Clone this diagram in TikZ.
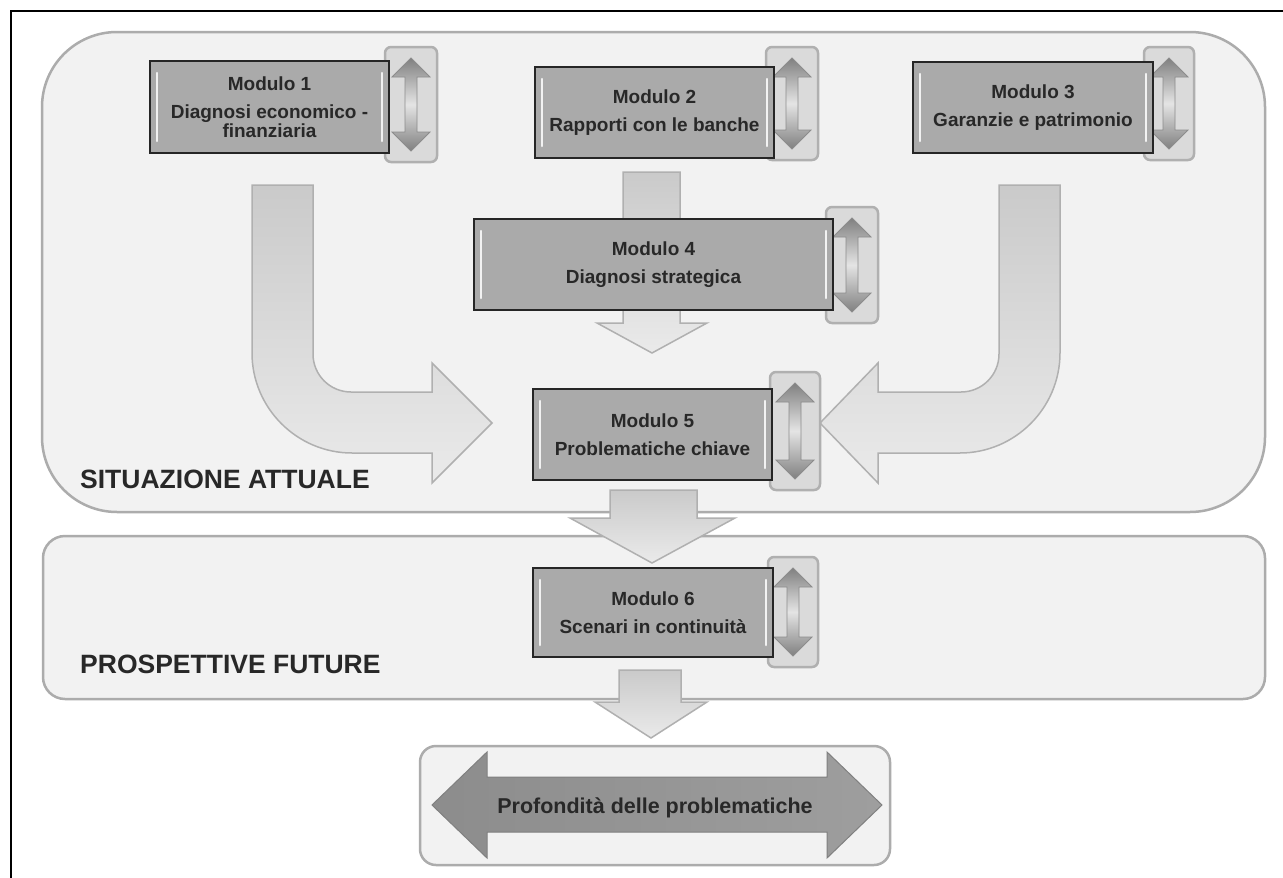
\documentclass[tikz,border=0pt]{standalone}
\usepackage{fontspec}
\setmainfont{Liberation Sans}
\usetikzlibrary{calc}
\definecolor{panelfill}{RGB}{242,242,242}
\definecolor{panelline}{RGB}{172,172,172}
\definecolor{bigtop}{RGB}{202,202,202}
\definecolor{bigbot}{RGB}{234,234,234}
\definecolor{bigline}{RGB}{176,176,176}
\definecolor{modfill}{RGB}{170,170,170}
\definecolor{sidefill}{RGB}{218,218,218}
\definecolor{sideline}{RGB}{176,176,176}
\definecolor{sadark}{RGB}{128,128,128}
\definecolor{salight}{RGB}{228,228,228}
\definecolor{txt}{RGB}{40,40,40}
\newcommand\bevel[1]{%
  \draw[white, line width=2.5, line cap=round, opacity=0.85] ($(#1.north west)+(7,12)$) -- ($(#1.south west)+(7,-12)$);
  \draw[white, line width=2.5, line cap=round, opacity=0.85] ($(#1.north east)+(-7,12)$) -- ($(#1.south east)+(-7,-12)$);}
\newcommand\sidearrow[1]{%
  \path[sidearr] ($(#1.north)+(0,11)$) -- ++(19,19) -- ++(-13,0) -- ($(#1.south)+(6,-30)$) -- ++(13,0) -- ++(-19,19) -- ++(-19,-19) -- ++(13,0) -- ($(#1.north)+(-6,30)$) -- ++(-13,0) -- cycle;}
\begin{document}
\begin{tikzpicture}[x=1pt,y=-1pt,
  panel/.style={draw=panelline, line width=2.5, fill=panelfill, outer sep=0},
  modbox/.style={draw=black!85, line width=1.3, fill=modfill, outer sep=0, align=center, text=txt,
    font=\fontsize{19}{18.5}\selectfont\bfseries},
  sidebox/.style={draw=sideline, line width=2.5, fill=sidefill, rounded corners=6, outer sep=0},
  sidearr/.style={draw=black!45, line width=0.8, top color=sadark, bottom color=sadark, middle color=salight},
  bigarrow/.style={draw=bigline, line width=1.5, top color=bigtop, bottom color=bigbot},
  lab/.style={anchor=base west, inner sep=0, text=txt, font=\fontsize{26.5}{30}\selectfont\bfseries}]
\useasboundingbox (0,0) rectangle (1283,878);
\fill[white] (0,0) rectangle (1283,878);
% outer frame (top and left edges)
\draw[black, line width=2.6] (11,878) -- (11,11) -- (1283,11);
% panels
\node[panel, rounded corners=75, minimum width=1223, minimum height=480] (p1) at (653.5,272) {};
\node[panel, rounded corners=22, minimum width=1222, minimum height=163] (p2) at (654,617.5) {};
\node[panel, rounded corners=16, minimum width=470, minimum height=119] (p3) at (655,805.5) {};
% labels
\node[lab] (lab1) at (80,488) {SITUAZIONE ATTUALE};
\node[lab] (lab2) at (80,673) {PROSPETTIVE FUTURE};
% big arrows
\path[bigarrow] (252,185) -- (313,185) -- (313,354) .. controls (313,375) and (330,392) .. (351,392)
  -- (432,392) -- (432,363) -- (492,423) -- (432,483) -- (432,453) -- (352,453)
  .. controls (297,453) and (252,408) .. (252,353) -- cycle;
\path[bigarrow] (1060,185) -- (999,185) -- (999,354) .. controls (999,375) and (982,392) .. (961,392)
  -- (878,392) -- (878,363) -- (820,423) -- (878,483) -- (878,453) -- (960,453)
  .. controls (1015,453) and (1060,408) .. (1060,353) -- cycle;
\path[bigarrow] (623,172) -- (680,172) -- (680,323) -- (707,323) -- (652,353) -- (597,323) -- (623,323) -- cycle;
\path[bigarrow] (610,490) -- (697,490) -- (697,518) -- (735,518) -- (652,563) -- (570,518) -- (610,518) -- cycle;
\path[bigarrow] (619,670) -- (681,670) -- (681,702) -- (707,702) -- (651,738) -- (595,702) -- (619,702) -- cycle;
% side boxes
\node[sidebox, minimum width=52, minimum height=115] (s1) at (411,104.5) {};
\node[sidebox, minimum width=52, minimum height=113] (s2) at (792,103.5) {};
\node[sidebox, minimum width=50, minimum height=113] (s3) at (1169,103.5) {};
\node[sidebox, minimum width=52, minimum height=116] (s4) at (852,265) {};
\node[sidebox, minimum width=50, minimum height=118] (s5) at (795,431) {};
\node[sidebox, minimum width=50, minimum height=110] (s6) at (793,612) {};
\sidearrow{s1}\sidearrow{s2}\sidearrow{s3}\sidearrow{s4}\sidearrow{s5}\sidearrow{s6}
% module boxes
\node[modbox, minimum width=239, minimum height=92] (m1) at (269.5,107) {Modulo 1\\[10pt]Diagnosi economico -\\finanziaria};
\node[modbox, minimum width=239, minimum height=91] (m2) at (654.5,112.5) {Modulo 2\\[10pt]Rapporti con le banche};
\node[modbox, minimum width=240, minimum height=91] (m3) at (1033,107.5) {Modulo 3\\[10pt]Garanzie e patrimonio};
\node[modbox, minimum width=359, minimum height=91] (m4) at (653.5,264.5) {Modulo 4\\[10pt]Diagnosi strategica};
\node[modbox, minimum width=239, minimum height=91] (m5) at (652.5,434.5) {Modulo 5\\[10pt]Problematiche chiave};
\node[modbox, minimum width=240, minimum height=89] (m6) at (653,612.5) {Modulo 6\\[10pt]Scenari in continuità};
\bevel{m1}\bevel{m2}\bevel{m3}\bevel{m4}\bevel{m5}\bevel{m6}
% bottom double arrow
\path[draw=black!50, line width=1, left color=black!45, middle color=black!10, right color=black!38]
  (432,805) -- (487,752) -- (487,777) -- (827,777) -- (827,752) -- (882,805) -- (827,858) -- (827,832)
  -- (487,832) -- (487,858) -- cycle;
\node[anchor=base, inner sep=0, text=txt, font=\fontsize{21.5}{24}\selectfont\bfseries] (pf) at (655,813) {Profondità delle problematiche};
\end{tikzpicture}
\end{document}
